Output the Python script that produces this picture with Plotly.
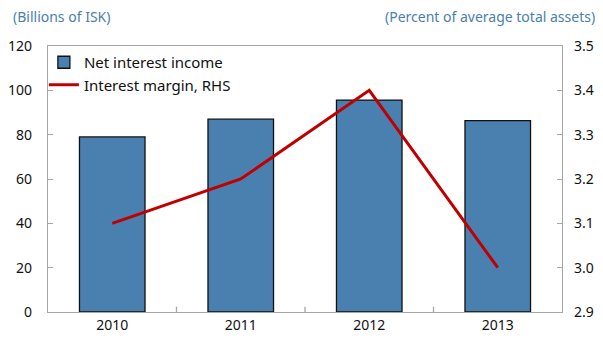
import plotly.graph_objects as go

years = ["2010", "2011", "2012", "2013"]
net_interest_income = [79, 87, 95.6, 86.3]
interest_margin = [3.1, 3.2, 3.4, 3.0]
left_ticks = [0, 20, 40, 60, 80, 100, 120]
right_ticks = [2.9, 3.0, 3.1, 3.2, 3.3, 3.4, 3.5]

font = "Noto Sans"
blue = "#4a80b0"
frame = "#a6a6a6"

fig = go.Figure()
fig.add_trace(go.Bar(x=years, y=net_interest_income, name="Net interest income",
                     marker=dict(color=blue, line=dict(color="#111111", width=1.3)),
                     width=0.51))
fig.add_trace(go.Scatter(x=years, y=interest_margin, name="Interest margin, RHS",
                         yaxis="y2", mode="lines",
                         line=dict(color="#c00000", width=3)))

fig.update_layout(
    width=595, height=335,
    margin=dict(l=40, r=41, t=38, b=31, autoexpand=False),
    paper_bgcolor="white", plot_bgcolor="white",
    font=dict(family=font, size=14, color="#111111"),
    showlegend=True,
    legend=dict(x=-0.008, y=1.0, xanchor="left", yanchor="top",
                bgcolor="rgba(0,0,0,0)", font=dict(size=15),
                tracegroupgap=0, itemwidth=30),
    xaxis=dict(showline=True, linecolor=frame, linewidth=1.3, mirror=True,
               ticks="", showgrid=False, tickfont=dict(size=14), automargin=False),
    yaxis=dict(range=[0, 120], tickvals=left_ticks, showline=True, linecolor=frame,
               linewidth=1.3, mirror=True, ticks="inside", ticklen=5, tickcolor=frame,
               showgrid=False, zeroline=False, tickfont=dict(size=14),
               ticklabelstandoff=12, automargin=False),
    yaxis2=dict(range=[2.9, 3.5], tickvals=right_ticks, tickformat=".1f",
                overlaying="y", side="right", showline=False, ticks="inside",
                ticklen=5, tickcolor=frame, showgrid=False, zeroline=False,
                tickfont=dict(size=14), ticklabelstandoff=11, automargin=False),
    bargap=0.49,
)

# category divider ticks at bottom
for i in range(1, len(years)):
    fig.add_shape(type="line", xref="x", yref="paper", x0=i - 0.5, x1=i - 0.5,
                  y0=0, y1=0.02, line=dict(color=frame, width=1.3))

fig.add_annotation(text="(Billions of ISK)", xref="paper", yref="paper",
                   x=-37/514, y=1 + 29/266, xanchor="left", yanchor="middle",
                   showarrow=False, font=dict(color=blue, size=14, family=font))
fig.add_annotation(text="(Percent of average total assets)", xref="paper", yref="paper",
                   x=1 + 35/514, y=1 + 29/266, xanchor="right", yanchor="middle",
                   showarrow=False, font=dict(color=blue, size=14, family=font))

fig.write_html("out.html")
